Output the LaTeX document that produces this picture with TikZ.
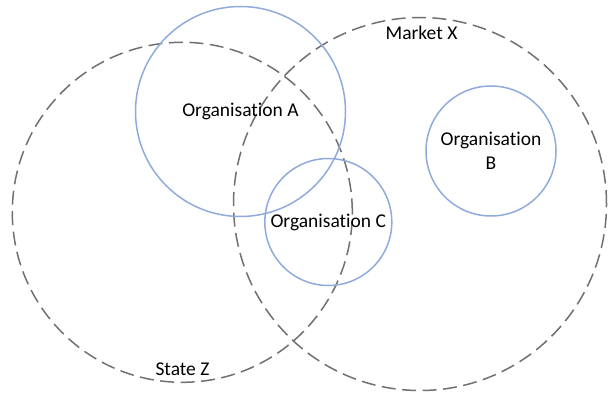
\documentclass[tikz,border=0pt]{standalone}
\usepackage{fontspec}
\setmainfont{Carlito}[Ligatures=NoCommon]
\usepackage{xcolor}
\usepackage{tikz}
\usetikzlibrary{positioning}

\definecolor{orgblue}{RGB}{143,170,220}
\definecolor{areagrey}{RGB}{112,112,112}

\begin{document}
\begin{tikzpicture}[
        x=1pt, y=-1pt,
        area/.style={circle, draw=areagrey, line width=1.5pt, dash pattern=on 14pt off 6.5pt, inner sep=0pt},
        org/.style={circle, draw=orgblue, line width=1.5pt, inner sep=0pt, align=center, font=\fontsize{19.5}{23.5}\selectfont},
        lbl/.style={font=\fontsize{19.5}{23.5}\selectfont, inner sep=0pt}
    ]
        \useasboundingbox (0,0) rectangle (609,393);
        \node[area, minimum size=340pt] (Z) at (182.3,212.3) {};
        \node[area, minimum size=373pt] (X) at (420,204) {};
        \node[org, minimum size=210pt] (A) at (240.5,111.5) {Organisation A};
        \node[org, minimum size=130pt] (B) at (491,151) {Organisation\\B};
        \node[org, minimum size=127pt] (C) at (328.3,222) {Organisation C};
        \node[lbl] (Xlbl) at (421.5,33) {Market X};
        \node[lbl] (Zlbl) at (182.5,369) {State Z};
    \end{tikzpicture}
\end{document}
